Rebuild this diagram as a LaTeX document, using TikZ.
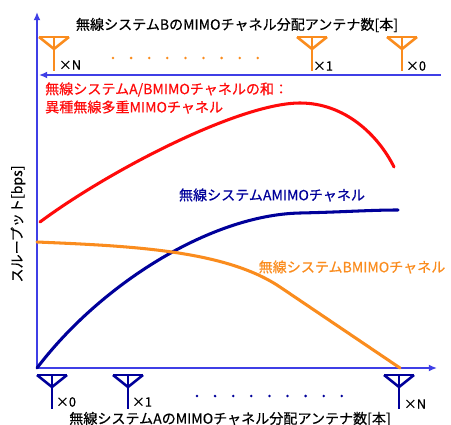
\documentclass[tikz,border=0pt]{standalone}
\usepackage{fontspec}
\setmainfont{Noto Sans CJK JP}[FakeBold=0.4]
\usepackage{tikz}
\usetikzlibrary{arrows.meta, positioning}
\definecolor{AxisBlue}{HTML}{3F3FE6}
\definecolor{SysARed}{HTML}{FF0A0A}
\definecolor{SysANavy}{HTML}{00009A}
\definecolor{SysBOrange}{HTML}{FA8C1E}
\colorlet{SumCurve}{SysARed}
\colorlet{CurveA}{SysANavy}
\colorlet{CurveB}{SysBOrange}
\tikzset{
    axis/.style={draw=AxisBlue, line width=1.6pt, -{Latex[length=7pt, width=6pt]}},
    curve/.style={line width=2.6pt, line cap=round},
    label/.style={inner sep=0pt, font=\fontsize{12}{15.5}\selectfont},
    count/.style={inner sep=0pt, font=\fontsize{11}{13}\selectfont},
    antenna/.pic={
        \draw[line width=2.2pt] (-15,0) -- (15,0);
        \draw[line width=2.2pt] (-15,0) -- (0,12) -- (15,0);
        \draw[line width=2.2pt] (0,0) -- (0,34);
    }
}

\begin{document}
\begin{tikzpicture}[x=0.03cm, y=-0.03cm]

    % Frame
    \useasboundingbox (0,0) rectangle (451,425);

    % Axes
    \coordinate (origin) at (37,368);
    \coordinate (ytip) at (37,12);
    \coordinate (xtip) at (437,368);
    \coordinate (btail) at (441,75);
    \coordinate (btip) at (39,75);
    \draw[axis] (origin) -- (ytip);
    \draw[axis] (origin) -- (xtip);
    \draw[axis] (btail) -- (btip);

    % Axis labels
    \node[label] (titleB) at (237,25) {無線システムBのMIMOチャネル分配アンテナ数[本]};
    \node[label] (titleA) at (230,419) {無線システムAのMIMOチャネル分配アンテナ数[本]};
    \node[label, rotate=90] (ylabel) at (18,224) {スループット[bps]};

    % Antennas of system B
    \foreach \x/\n in {54/antBN, 312/antB1, 402/antB0}
        \pic[draw=CurveB] (\n) at (\x,37) {antenna};
    \node[count] (cntBN) at (70,65) {×N};
    \node[count] (cntB1) at (323,66) {×1};
    \node[count] (cntB0) at (416,66) {×0};
    \foreach \i in {0,...,8}
        \fill[CurveB] (113+\i*18.1,58) circle (1.4);

    % Antennas of system A
    \foreach \x/\n in {52/antA0, 128/antA1, 399/antAN}
        \pic[draw=CurveA] (\n) at (\x,375) {antenna};
    \node[count] (cntA0) at (66,402) {×0};
    \node[count] (cntA1) at (142,402) {×1};
    \node[count] (cntAN) at (415,404) {×N};
    \foreach \i in {0,...,8}
        \fill[CurveA] (197+\i*18.1,396) circle (1.4);

    % Throughput curves
    \draw[curve, SumCurve] (40,222) .. controls (110,170) and (240,103) .. (300,103)
        .. controls (345,103) and (378,135) .. (394,167);
    \draw[curve, CurveA] (37,368) .. controls (100,285) and (210,215) .. (300,213)
        .. controls (345,212) and (370,210) .. (398,210);
    \draw[curve, CurveB] (37,242) .. controls (130,246) and (225,250) .. (280,287)
        -- (400,368);

    % Curve labels
    \node[label, text=SumCurve, anchor=west, align=left] (sumlabel) at (45,98)
        {無線システムA/BMIMOチャネルの和：\\異種無線多重MIMOチャネル};
    \node[label, text=CurveA] (labelA) at (272,195) {無線システムAMIMOチャネル};
    \node[label, text=CurveB] (labelB) at (352,267) {無線システムBMIMOチャネル};

\end{tikzpicture}
\end{document}
